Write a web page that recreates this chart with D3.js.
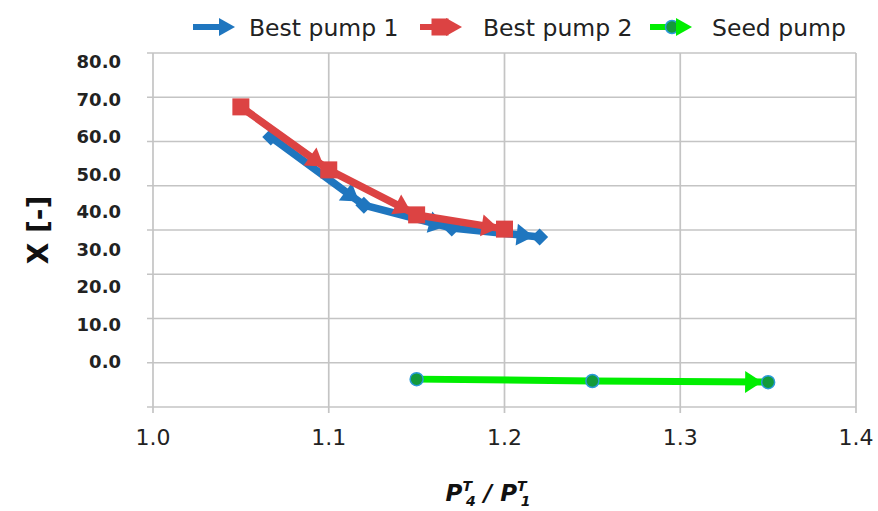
<!DOCTYPE html>
<html><head><meta charset="utf-8">
<script src="https://cdn.jsdelivr.net/npm/d3@7"></script>
<style>html,body{margin:0;padding:0;background:#fff;}svg{display:block;}</style>
</head><body>
<svg id="chart" width="878" height="511"></svg>
<script>
// ---- data ----
const seriesNames = ["Best pump 1", "Best pump 2", "Seed pump"];
const bestPump1X = [1.067, 1.12, 1.17, 1.22];
const bestPump1Y = [59.9, 41.7, 35.6, 33.2];
const bestPump2X = [1.05, 1.10, 1.15, 1.20];
const bestPump2Y = [67.9, 51.1, 39.1, 35.3];
const seedPumpX = [1.15, 1.25, 1.35];
const seedPumpY = [-4.7, -5.2, -5.5];
const xTicks = [1.0, 1.1, 1.2, 1.3, 1.4];
const yTickLabels = [0, 10, 20, 30, 40, 50, 60, 70, 80];

const colors = {blue: "#1f76bf", red: "#dc4343", green: "#00ee00", greenMarker: "#139a3b"};

const svg = d3.select("#chart");
const plot = {left: 153, right: 856, top: 53, bottom: 407};

const x = d3.scaleLinear().domain([1.0, 1.4]).range([plot.left, plot.right]);
const y = d3.scaleLinear().domain([0, 80]).range([361.5, 61.5]);

const grid = svg.append("g");
// horizontal gridlines: 9 evenly spaced lines across plot height
const nH = 8;
d3.range(nH + 1).forEach(i => {
  const v = y.invert(plot.top + i * (plot.bottom - plot.top) / nH);
  grid.append("line").attr("x1", plot.left - 6).attr("x2", plot.right)
    .attr("y1", y(v)).attr("y2", y(v))
    .attr("stroke", "#c4c4c4").attr("stroke-width", 1.7);
});
// vertical gridlines
xTicks.forEach(t => {
  grid.append("line").attr("x1", x(t)).attr("x2", x(t))
    .attr("y1", plot.top).attr("y2", plot.bottom + 6)
    .attr("stroke", "#c4c4c4").attr("stroke-width", 1.7);
});

// x tick labels
svg.append("g").selectAll("text").data(xTicks).join("text")
  .attr("x", d => x(d)).attr("y", 445)
  .attr("text-anchor", "middle")
  .attr("font-family", "DejaVu Sans").attr("font-size", 22).attr("fill", "#222")
  .text(d => d.toFixed(1));

// y tick labels
svg.append("g").selectAll("text").data(yTickLabels).join("text")
  .attr("x", 121).attr("y", d => y(d) + 6.5)
  .attr("text-anchor", "end")
  .attr("font-family", "DejaVu Sans").attr("font-weight", "bold").attr("font-size", 18).attr("fill", "#222")
  .text(d => d.toFixed(1));

// y title
svg.append("text")
  .attr("transform", "translate(48,230) rotate(-90)")
  .attr("text-anchor", "middle")
  .attr("font-family", "DejaVu Sans").attr("font-weight", "bold").attr("font-size", 28).attr("fill", "#111")
  .text("X [-]");

// x title
const xt = svg.append("text").attr("x", 488).attr("y", 501).attr("text-anchor", "middle")
  .attr("font-family", "DejaVu Sans").attr("font-weight", "bold").attr("font-style", "italic")
  .attr("font-size", 23).attr("fill", "#111");
xt.append("tspan").text("P");
xt.append("tspan").attr("font-size", 14).attr("dy", -10).text("T");
xt.append("tspan").attr("font-size", 14).attr("dx", -6).attr("dy", 15).text("4");
xt.append("tspan").attr("dy", -5).text(" / P");
xt.append("tspan").attr("font-size", 14).attr("dy", -10).text("T");
xt.append("tspan").attr("font-size", 14).attr("dx", -6).attr("dy", 15).text("1");

function arrowHead(g, tip, u, color, len, hw) {
  const bx = tip[0] - u[0] * len, by = tip[1] - u[1] * len;
  const nx = -u[1], ny = u[0];
  g.append("path")
    .attr("d", `M${tip[0]},${tip[1]}L${bx + nx * hw},${by + ny * hw}L${bx - nx * hw},${by - ny * hw}Z`)
    .attr("fill", color);
}

function drawSeries(xs, ys, color, lw, markerFn, arrowsEverySeg) {
  const g = svg.append("g");
  const pts = xs.map((d, i) => [x(d), y(ys[i])]);
  g.append("path").attr("d", d3.line()(pts)).attr("fill", "none")
    .attr("stroke", color).attr("stroke-width", lw).attr("stroke-linejoin", "round");
  for (let i = 1; i < pts.length; i++) {
    if (!arrowsEverySeg && i < pts.length - 1) continue;
    const dx = pts[i][0] - pts[i - 1][0], dy = pts[i][1] - pts[i - 1][1];
    const L = Math.hypot(dx, dy);
    const u = [dx / L, dy / L];
    const tip = [pts[i][0] - u[0] * 6, pts[i][1] - u[1] * 6];
    arrowHead(g, tip, u, color, 17, 11);
  }
  pts.forEach(p => markerFn(g, p));
}

const squareMarker = (g, p) => g.append("rect").attr("x", p[0] - 8.5).attr("y", p[1] - 8.5)
  .attr("width", 17).attr("height", 17).attr("fill", colors.red);
const diamondMarker = (g, p) => g.append("path")
  .attr("d", `M${p[0]},${p[1] - 8.5}L${p[0] + 8.5},${p[1]}L${p[0]},${p[1] + 8.5}L${p[0] - 8.5},${p[1]}Z`)
  .attr("fill", colors.blue);
const circleMarker = (g, p) => g.append("circle").attr("cx", p[0]).attr("cy", p[1]).attr("r", 6.5)
  .attr("fill", colors.greenMarker).attr("stroke", "#2a9ad8").attr("stroke-width", 1.5);

drawSeries(bestPump1X, bestPump1Y, colors.blue, 7.5, diamondMarker, true);
drawSeries(bestPump2X, bestPump2Y, colors.red, 7.5, squareMarker, true);
drawSeries(seedPumpX, seedPumpY, colors.green, 7, circleMarker, false);

// legend
const legend = [
  {name: seriesNames[0], color: colors.blue, x0: 193, tx: 249, marker: null},
  {name: seriesNames[1], color: colors.red, x0: 420, tx: 483, marker: "square"},
  {name: seriesNames[2], color: colors.green, x0: 650, tx: 712, marker: "circle"}
];
const lg = svg.append("g");
legend.forEach(l => {
  const cy = 27;
  lg.append("line").attr("x1", l.x0).attr("x2", l.x0 + 28).attr("y1", cy).attr("y2", cy)
    .attr("stroke", l.color).attr("stroke-width", 6);
  if (l.marker === "square") squareMarker(lg, [l.x0 + 20, cy]);
  if (l.marker === "circle") circleMarker(lg, [l.x0 + 22, cy]);
  arrowHead(lg, [l.x0 + 42, cy], [1, 0], l.color, 16, 9);
  lg.append("text").attr("x", l.tx).attr("y", 35.5)
    .attr("font-family", "DejaVu Sans").attr("font-size", 23.5).attr("fill", "#222")
    .text(l.name);
});
</script>
</body></html>
